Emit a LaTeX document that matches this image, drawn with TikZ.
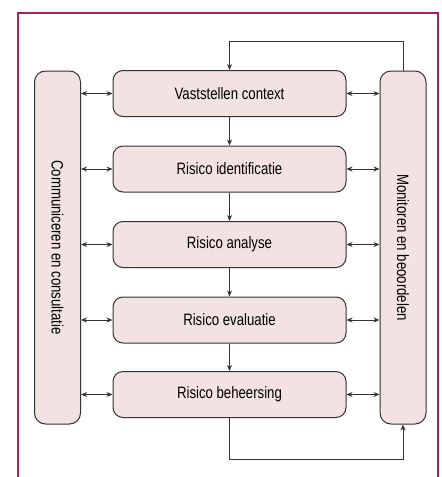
\documentclass[tikz,border=0pt]{standalone}
\usepackage{fontspec}
\setmainfont[FakeStretch=0.8]{Liberation Sans}
\usetikzlibrary{arrows.meta}
\definecolor{frame}{HTML}{A8234F}
\definecolor{boxfill}{HTML}{F2E2E2}
\definecolor{boxline}{HTML}{333333}
\tikzset{
  stepbox/.style={draw=boxline, fill=boxfill, line width=1pt, rounded corners=10pt,
    minimum width=233pt, minimum height=46pt, inner sep=0pt, font=\fontsize{16.5}{19}\selectfont},
  colbox/.style={draw=boxline, fill=boxfill, line width=1pt, rounded corners=11pt,
    minimum width=46pt, minimum height=353pt, inner sep=0pt},
  conn/.style={draw=boxline, line width=1pt, -{Stealth[length=6pt,width=5pt]}},
  dconn/.style={draw=boxline, line width=1pt, {Stealth[length=6pt,width=5pt]}-{Stealth[length=6pt,width=5pt]}}
}
\begin{document}
\begin{tikzpicture}[x=1pt,y=-1pt]
\useasboundingbox (0,0) rectangle (442,477);
\fill[white] (0,0) rectangle (442,477);
\draw[frame, line width=2pt] (18,480) -- (18,13) -- (438,13) -- (438,480);
\node[colbox] (comm) at (57.5,247.5) {};
\node[rotate=-90, font=\fontsize{16.5}{19}\selectfont] (commt) at (comm.center) {Communiceren en consultatie};
\node[colbox] (mon) at (403,247.5) {};
\node[rotate=-90, font=\fontsize{16.5}{19}\selectfont] (mont) at (mon.center) {Monitoren en beoordelen};
\node[stepbox] (s1) at (229.5,93.5) {Vaststellen context};
\node[stepbox] (s2) at (229.5,169) {Risico identificatie};
\node[stepbox] (s3) at (229.5,244.5) {Risico analyse};
\node[stepbox] (s4) at (229.5,320) {Risico evaluatie};
\node[stepbox] (s5) at (229.5,394.5) {Risico beheersing};
\foreach \a/\b in {s1/s2,s2/s3,s3/s4,s4/s5}{
  \draw[conn] (\a.south) -- (\b.north);
}
\foreach \s in {s1,s2,s3,s4,s5}{
  \draw[dconn] (comm.east |- \s.west) -- (\s.west);
  \draw[dconn] (\s.east) -- (mon.west |- \s.east);
}
\coordinate (t1) at (403,41);
\coordinate (t2) at (229.5,41);
\draw[conn] (mon.north) -- (t1) -- (t2) -- (s1.north);
\coordinate (b1) at (229.5,459);
\coordinate (b2) at (403,459);
\draw[conn] (s5.south) -- (b1) -- (b2) -- (mon.south);
\end{tikzpicture}
\end{document}
